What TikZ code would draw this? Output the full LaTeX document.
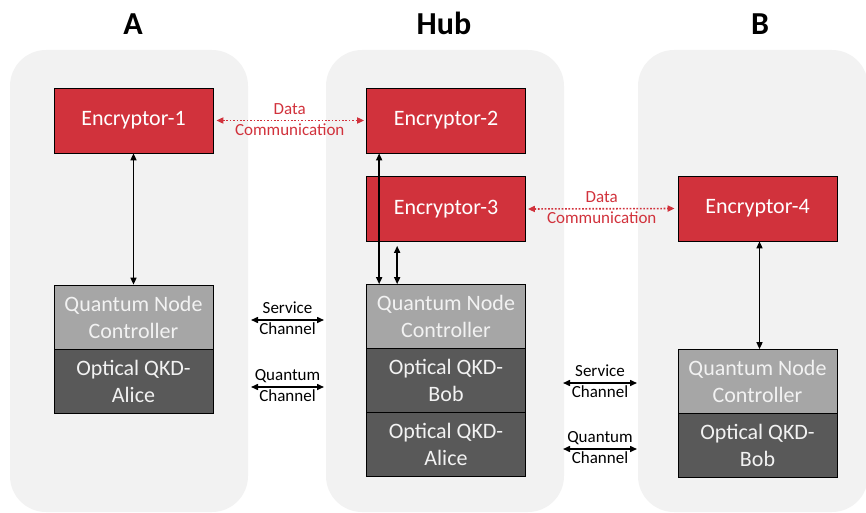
\documentclass[tikz,border=0pt]{standalone}
\usepackage{fontspec}
\setmainfont{Carlito}
\usetikzlibrary{arrows.meta}
\definecolor{encred}{RGB}{209,50,60}
\definecolor{panelgray}{RGB}{242,242,242}
\definecolor{qncgray}{RGB}{166,166,166}
\definecolor{qkdgray}{RGB}{89,89,89}
\definecolor{lighttext}{RGB}{242,242,242}
\begin{document}
\begin{tikzpicture}[x=1pt,y=-1pt,
  panel/.style={fill=panelgray, rounded corners=36pt},
  box/.style={draw=black, line width=0.7pt, minimum width=159pt, inner sep=0pt, align=center, font=\fontsize{22}{27}\selectfont},
  enc/.style={box, fill=encred, text=white, minimum height=65pt},
  qnc/.style={box, fill=qncgray, text=lighttext, minimum height=64pt},
  qkd/.style={box, fill=qkdgray, text=lighttext, minimum height=64pt},
  title/.style={font=\fontsize{32}{38}\selectfont\bfseries, anchor=base},
  biarrow/.style={{Triangle[length=7pt,width=6pt]}-{Triangle[length=7pt,width=6pt]}, line width=1.5pt, draw=black},
  dataarrow/.style={{Triangle[length=7pt,width=6pt]}-{Triangle[length=7pt,width=6pt]}, line width=1.6pt, draw=encred, dash pattern=on 1.7pt off 1.7pt},
  lbl/.style={font=\fontsize{17}{20}\selectfont, anchor=base, inner sep=0pt},
  dlbl/.style={lbl, text=encred}]
\useasboundingbox (0,0) rectangle (866,513);
\clip (0,0) rectangle (866,513);

% panels
\fill[panel] (10,50) rectangle (248,512);
\fill[panel] (326,50) rectangle (564,512);
\fill[panel] (638,50) rectangle (868,512);

% titles
\node[title] (ta) at (133,35) {A};
\node[title] (th) at (444,35) {Hub};
\node[title] (tb) at (760,35) {B};

% site A
\node[enc] (e1) at (133.5,120.5) {Encryptor-1};
\node[qnc] (qa) at (133.5,317) {Quantum Node\\Controller};
\node[qkd] (aa) at (133.5,381) {Optical QKD-\\Alice};

% hub
\node[enc] (e2) at (446,120.5) {Encryptor-2};
\node[enc] (e3) at (446,209) {Encryptor-3};
\node[qnc] (qh) at (446,316.5) {Quantum Node\\Controller};
\node[qkd] (bh) at (446,380.5) {Optical QKD-\\Bob};
\node[qkd] (ah) at (446,444.5) {Optical QKD-\\Alice};

% site B
\node[enc] (e4) at (757.5,208.5) {Encryptor-4};
\node[qnc] (qb) at (757.5,381.5) {Quantum Node\\Controller};
\node[qkd] (bb) at (757.5,445.5) {Optical QKD-\\Bob};

% vertical links
\draw[biarrow] (e1.south) -- (qa.north);
\draw[biarrow] ([xshift=13pt]e2.south west) -- ([xshift=13pt]qh.north west);
\draw[biarrow] ([xshift=31pt,yshift=-4pt]e3.south west) -- ([xshift=31pt]qh.north west);
\draw[biarrow] ([xshift=2pt]e4.south) -- ([xshift=2pt]qb.north);

% data communication
\draw[dataarrow, shorten <=3pt, shorten >=2pt] (e1.east) -- node[dlbl,yshift=6pt]{Data} node[dlbl,yshift=-15pt]{Communication} (e2.west);
\draw[dataarrow, shorten <=2pt, shorten >=3pt] (e3.east) -- node[dlbl,yshift=6pt]{Data} node[dlbl,yshift=-15pt]{Communication} (e4.west);

% channel coordinates
\coordinate (s1l) at (251,320);
\coordinate (s1r) at (324,320);
\coordinate (q1l) at (251,387);
\coordinate (q1r) at (324,387);
\coordinate (s2l) at (563,383);
\coordinate (s2r) at (637,383);
\coordinate (q2l) at (563,449);
\coordinate (q2r) at (637,449);

\draw[biarrow] (s1l) -- node[lbl,yshift=6.5pt]{Service} node[lbl,yshift=-14pt]{Channel} (s1r);
\draw[biarrow] (q1l) -- node[lbl,yshift=6.5pt]{Quantum} node[lbl,yshift=-14pt]{Channel} (q1r);
\draw[biarrow] (s2l) -- node[lbl,yshift=6.5pt]{Service} node[lbl,yshift=-14pt]{Channel} (s2r);
\draw[biarrow] (q2l) -- node[lbl,yshift=6.5pt]{Quantum} node[lbl,yshift=-14pt]{Channel} (q2r);
\end{tikzpicture}
\end{document}
